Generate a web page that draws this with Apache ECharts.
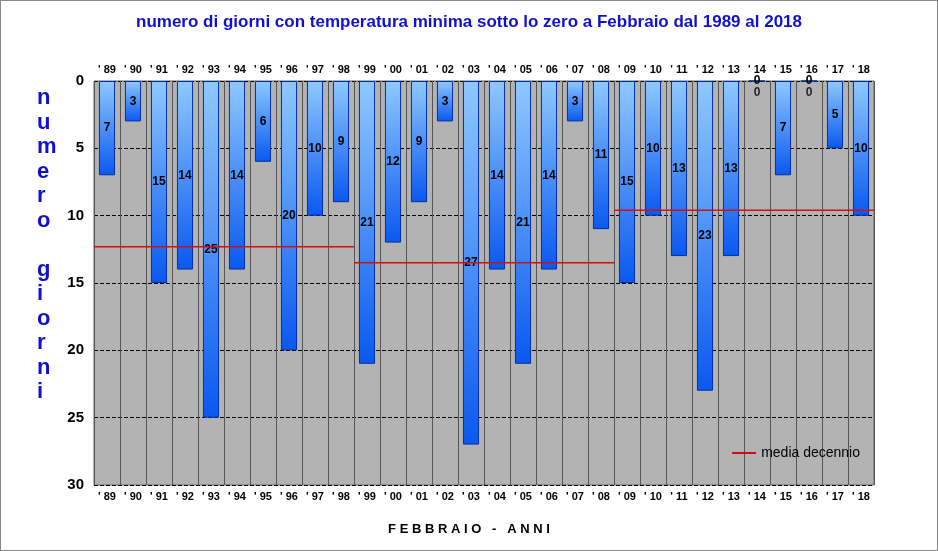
<!DOCTYPE html>
<html><head><meta charset="utf-8">
<script src="https://cdn.jsdelivr.net/npm/echarts@6/dist/echarts.min.js"></script>
<style>html,body{margin:0;padding:0;background:#fff}#c{width:938px;height:551px;box-sizing:border-box;border:1px solid #888}</style>
</head><body><div id="c"></div>
<script>
const years = ['89','90','91','92','93','94','95','96','97','98','99','00','01','02','03','04','05','06','07','08','09','10','11','12','13','14','15','16','17','18'];
const days = [7,3,15,14,25,14,6,20,10,9,21,12,9,3,27,14,21,14,3,11,15,10,13,23,13,0,7,0,5,10];
const decadeStart = [0,10,20];
const decadeMean = [12.3,13.5,9.6];

const avgData = [];
decadeStart.forEach((s,i)=>{avgData.push([s-0.5,decadeMean[i]],[s+9.5,decadeMean[i]],[null,null]);});
const labels = years.map(y=>"' "+y);
const chart = echarts.init(document.getElementById('c'));
chart.setOption({
  animation:false,
  title:{text:'numero di giorni con temperatura minima sotto lo zero a Febbraio dal 1989 al 2018',left:'center',top:8,
    textStyle:{color:'#1010d0',fontSize:17,fontWeight:'bold',fontFamily:'Liberation Sans'}},
  legend:{data:['media decennio'],right:72,top:440,itemWidth:24,itemHeight:2,icon:'rect',
    textStyle:{fontSize:14,color:'#000',fontFamily:'Liberation Sans'}},
  graphic:[
    {type:'text',left:36,top:85,style:{text:'n\nu\nm\ne\nr\no\n\ng\ni\no\nr\nn\ni',fill:'#1010d0',font:'bold 22px Liberation Sans',lineHeight:24.5,align:'center'}},
    {type:'text',left:'center',top:522,style:{text:'F E B B R A I O   -   A N N I',fill:'#000',font:'bold 13px Liberation Sans'}}
  ],
  grid:{left:93,right:63,top:80,bottom:65,show:true,backgroundColor:'#b3b3b3',borderColor:'#666'},
  xAxis:[
    {type:'category',data:labels,position:'top',axisTick:{show:false},axisLine:{show:false},
      axisLabel:{fontSize:11,fontWeight:'bold',color:'#000',interval:0,margin:6},
      splitLine:{show:true,interval:0,lineStyle:{color:'#555',width:1}}},
    {type:'category',data:labels,position:'bottom',axisTick:{show:false},axisLine:{show:false},
      axisLabel:{fontSize:11,fontWeight:'bold',color:'#000',interval:0,margin:6}},
    {type:'value',min:-0.5,max:29.5,show:false}
  ],
  yAxis:{type:'value',inverse:true,min:0,max:30,interval:5,axisLine:{show:false},axisTick:{show:false},
    axisLabel:{fontSize:15,fontWeight:'bold',color:'#000',margin:10},
    splitLine:{lineStyle:{color:'#000',type:'dashed'}}},
  series:[
    {type:'bar',xAxisIndex:0,data:days,barWidth:'62%',
      itemStyle:{borderColor:'#0030a0',borderWidth:1,
        color:new echarts.graphic.LinearGradient(0,0,0,1,[{offset:0,color:'#8ec8ff'},{offset:1,color:'#0a58f0'}])},
      label:{show:true,position:'inside',color:'#000',fontWeight:'bold',fontSize:12,
        formatter:p=>p.value}},
    {type:'scatter',xAxisIndex:0,data:days.map(v=>v===0?0.9:null),symbolSize:0,silent:true,
      label:{show:true,position:'inside',color:'#000',fontWeight:'bold',fontSize:12,formatter:()=> '0'}},
    {name:'media decennio',type:'line',xAxisIndex:2,data:avgData,showSymbol:false,connectNulls:false,
      lineStyle:{color:'#d01010',width:1.5},itemStyle:{color:'#d01010'}}
  ]
});
</script></body></html>
